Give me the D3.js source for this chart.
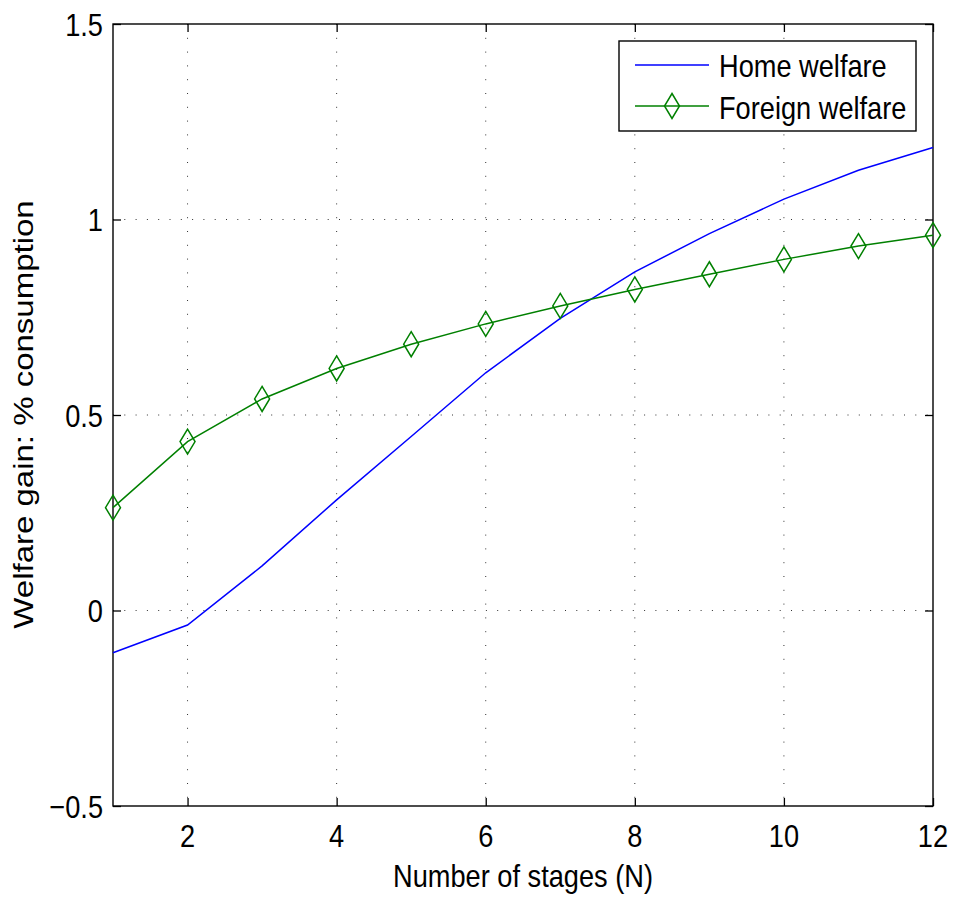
<!DOCTYPE html>
<html><head><meta charset="utf-8">
<script src="https://cdn.jsdelivr.net/npm/d3@7"></script>
<style>body{margin:0;background:#fff}svg{display:block}text{font-family:"Liberation Sans",Arial,Helvetica,sans-serif;fill:#000}</style>
</head><body>
<script>
const stages = [1,2,3,4,5,6,7,8,9,10,11,12];
const homeWelfare = [-0.108,-0.037,0.114,0.283,0.445,0.608,0.747,0.866,0.964,1.052,1.126,1.184];
const foreignWelfare = [0.263,0.432,0.541,0.619,0.681,0.733,0.779,0.821,0.860,0.898,0.932,0.960];
const xTicks = [2,4,6,8,10,12];
const yTicks = [-0.5,0,0.5,1,1.5];
const yTickLabels = ["\u22120.5","0","0.5","1","1.5"];
const seriesNames = ["Home welfare","Foreign welfare"];

const W = 956, H = 898;
const L = 113, R = 933, T = 24, B = 806;
const SX = 0.85, FS = 32;

const svg = d3.select("body").append("svg").attr("width", W).attr("height", H);
const x = d3.scaleLinear().domain([1,12]).range([L,R]);
const y = d3.scaleLinear().domain([-0.5,1.5]).range([B,T]);

function txt(g, s, px, py, anchor, size){
  return g.append("text").attr("transform", `translate(${px},${py}) scale(${SX},1)`)
    .attr("text-anchor", anchor).style("font-size", (size||FS)+"px").text(s);
}

// grid
const grid = svg.append("g");
grid.selectAll("line.gx").data(xTicks.filter(d=>d<12)).join("line")
  .attr("x1", d=>x(d)).attr("x2", d=>x(d)).attr("y1", T).attr("y2", B)
  .attr("stroke", "#333").attr("stroke-width", 1).attr("stroke-dasharray", "1,12.8");
grid.selectAll("line.gy").data(yTicks.filter(d=>d>-0.5 && d<1.5)).join("line")
  .attr("x1", L).attr("x2", R).attr("y1", d=>y(d)).attr("y2", d=>y(d))
  .attr("stroke", "#333").attr("stroke-width", 1).attr("stroke-dasharray", "1,10.3");

// axes (ticks inward on all four sides)
const tl = 8;
const axB = svg.append("g").attr("transform", `translate(0,${B})`)
  .call(d3.axisTop(x).tickValues(xTicks).tickSize(tl).tickFormat(""));
const axT = svg.append("g").attr("transform", `translate(0,${T})`)
  .call(d3.axisBottom(x).tickValues(xTicks).tickSize(tl).tickFormat(""));
const axL = svg.append("g").attr("transform", `translate(${L},0)`)
  .call(d3.axisRight(y).tickValues(yTicks).tickSize(tl).tickFormat(""));
const axR = svg.append("g").attr("transform", `translate(${R},0)`)
  .call(d3.axisLeft(y).tickValues(yTicks).tickSize(tl).tickFormat(""));
[axB,axT,axL,axR].forEach(a=>{
  a.select(".domain").remove();
  a.selectAll(".tick line").attr("stroke","#000").attr("stroke-width",1.3);
});
svg.append("rect").attr("x",L).attr("y",T).attr("width",R-L).attr("height",B-T)
  .attr("fill","none").attr("stroke","#000").attr("stroke-width",1.4);

// tick labels
const lab = svg.append("g");
xTicks.forEach(d=>txt(lab, String(d), x(d), 847, "middle"));
yTicks.forEach((d,i)=>txt(lab, yTickLabels[i], 103, y(d)+11.5, "end"));

// axis titles
txt(lab, "Number of stages (N)", (L+R)/2 - 0, 887, "middle");
lab.append("text").attr("transform", `translate(33,414.5) scale(${SX},1) rotate(-90)`)
  .attr("text-anchor","middle").style("font-size","33px").text("Welfare gain: % consumption");

// lines
const line = d3.line().x((d,i)=>x(stages[i])).y(d=>y(d));
const diamond = (cx,cy)=>`M${cx},${cy-12.5}L${cx+7.5},${cy}L${cx},${cy+12.5}L${cx-7.5},${cy}Z`;
svg.append("path").datum(homeWelfare).attr("d", line).attr("fill","none")
  .attr("stroke","#0000ff").attr("stroke-width",1.5);
svg.append("path").datum(foreignWelfare).attr("d", line).attr("fill","none")
  .attr("stroke","#008000").attr("stroke-width",1.5);
svg.append("g").selectAll("path").data(foreignWelfare).join("path")
  .attr("d",(d,i)=>diamond(x(stages[i]), y(d))).attr("fill","none")
  .attr("stroke","#008000").attr("stroke-width",1.5);

// legend
const lg = svg.append("g");
lg.append("rect").attr("x",619).attr("y",41).attr("width",297).attr("height",90)
  .attr("fill","#fff").attr("stroke","#000").attr("stroke-width",1.4);
lg.append("line").attr("x1",635).attr("x2",709).attr("y1",65).attr("y2",65)
  .attr("stroke","#0000ff").attr("stroke-width",1.5);
lg.append("line").attr("x1",635).attr("x2",709).attr("y1",106).attr("y2",106)
  .attr("stroke","#008000").attr("stroke-width",1.5);
lg.append("path").attr("d", diamond(672,106)).attr("fill","none")
  .attr("stroke","#008000").attr("stroke-width",1.5);
txt(lg, seriesNames[0], 719, 77, "start");
txt(lg, seriesNames[1], 719, 119, "start");
</script>
</body></html>
